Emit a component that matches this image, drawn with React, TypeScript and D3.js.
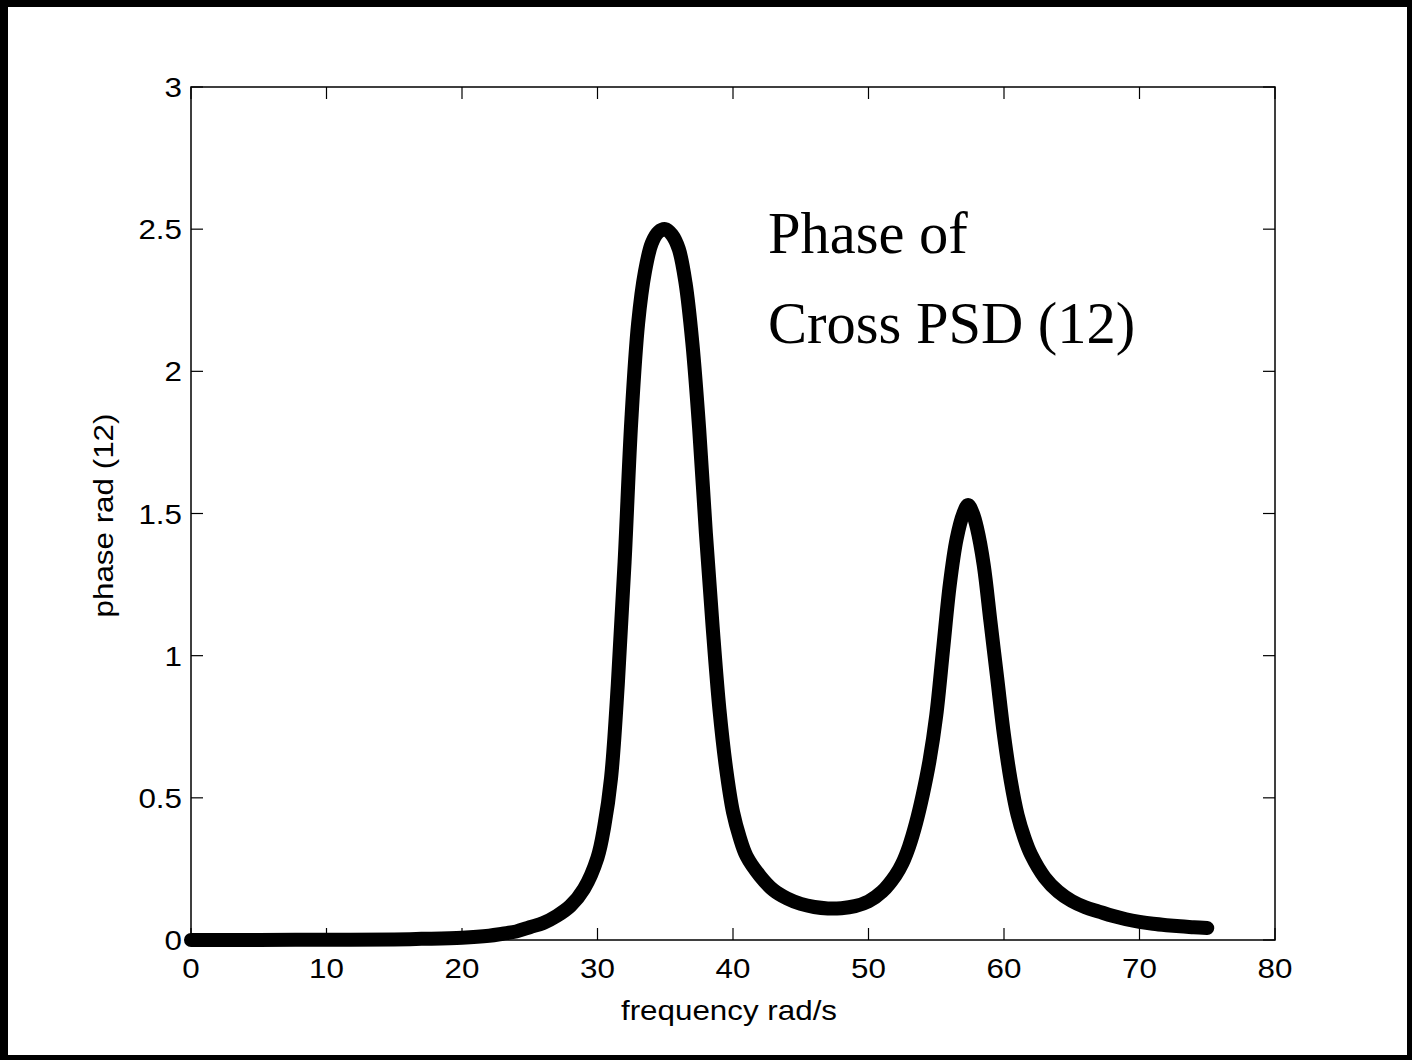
import React from "react";
import * as d3 from "d3";

const freq = [0, 5, 10, 15, 17, 20, 22, 23, 24, 25, 26, 27, 28, 29, 30, 30.5, 31, 31.5, 32, 32.5, 33, 33.5, 34, 34.5, 35, 35.5, 36, 36.5, 37, 37.5, 38, 38.5, 39, 39.5, 40, 40.5, 41, 42, 43, 44, 45, 46, 47, 48, 49, 50, 51, 52, 52.5, 53, 53.5, 54, 54.5, 55, 55.5, 56, 56.5, 57, 57.35, 57.7, 58, 58.5, 59, 59.5, 60, 60.5, 61, 61.5, 62, 63, 64, 65, 66, 67, 68, 69, 70, 71, 72, 73, 74, 75];
const phase = [0, 0, 0.001, 0.002, 0.004, 0.008, 0.015, 0.022, 0.03, 0.045, 0.06, 0.085, 0.12, 0.18, 0.29, 0.4, 0.57, 0.9, 1.33, 1.83, 2.17, 2.35, 2.45, 2.49, 2.5, 2.48, 2.43, 2.31, 2.1, 1.8, 1.43, 1.1, 0.81, 0.6, 0.45, 0.36, 0.295, 0.225, 0.175, 0.146, 0.127, 0.116, 0.111, 0.112, 0.119, 0.136, 0.17, 0.228, 0.27, 0.33, 0.41, 0.51, 0.63, 0.79, 1.02, 1.25, 1.41, 1.5, 1.53, 1.5, 1.45, 1.32, 1.12, 0.92, 0.72, 0.56, 0.44, 0.36, 0.3, 0.22, 0.17, 0.137, 0.115, 0.1, 0.085, 0.073, 0.064, 0.057, 0.052, 0.048, 0.045, 0.042];
const xTicks = [0, 10, 20, 30, 40, 50, 60, 70, 80];
const yTicks = [0, 0.5, 1, 1.5, 2, 2.5, 3];
const yTickLabels = ["0", "0.5", "1", "1.5", "2", "2.5", "3"];
const titleLines = ["Phase of", "Cross PSD (12)"];
const xLabel = "frequency rad/s";
const yLabel = "phase rad (12)";

const W = 1412;
const H = 1060;
const L = 191, R = 1275, T = 87, B = 940;

export default function App() {
  const x = d3.scaleLinear().domain([0, 80]).range([L, R]);
  const y = d3.scaleLinear().domain([0, 3]).range([B, T]);
  const pts: [number, number][] = freq.map((f, i) => [f, phase[i]]);
  const line = d3.line<[number, number]>().x(d => x(d[0])).y(d => y(d[1])).curve(d3.curveCatmullRom.alpha(0.5));
  const sans = "'Liberation Sans', Arial, Helvetica, sans-serif";
  const serif = "'Liberation Serif', 'Times New Roman', serif";
  const tick = 12;
  const sx = 1.12;
  return (
    <svg width={W} height={H} style={{ position: "absolute", left: 0, top: 0, background: "#fff" }}>
      <rect x={0} y={0} width={W} height={H} fill="#fff" />
      {/* outer frame */}
      <rect x={0} y={0} width={W} height={7} fill="#000" />
      <rect x={0} y={1055} width={W} height={5} fill="#000" />
      <rect x={0} y={0} width={8} height={H} fill="#000" />
      <rect x={1407} y={0} width={5} height={H} fill="#000" />
      {/* axes box */}
      <rect x={L} y={T} width={R - L} height={B - T} fill="none" stroke="#000" strokeWidth={1.5} />
      {xTicks.map(t => (
        <g key={"xt" + t}>
          <line x1={x(t)} x2={x(t)} y1={B} y2={B - tick} stroke="#000" strokeWidth={1.2} />
          <line x1={x(t)} x2={x(t)} y1={T} y2={T + tick} stroke="#000" strokeWidth={1.2} />
          <text transform={`translate(${x(t)},978) scale(${sx},1)`} textAnchor="middle" fontFamily={sans} fontSize={28} fill="#000">{String(t)}</text>
        </g>
      ))}
      {yTicks.map((t, i) => (
        <g key={"yt" + t}>
          <line x1={L} x2={L + tick} y1={y(t)} y2={y(t)} stroke="#000" strokeWidth={1.2} />
          <line x1={R} x2={R - tick} y1={y(t)} y2={y(t)} stroke="#000" strokeWidth={1.2} />
          <text transform={`translate(182,${y(t) + 10}) scale(${sx},1)`} textAnchor="end" fontFamily={sans} fontSize={28} fill="#000">{yTickLabels[i]}</text>
        </g>
      ))}
      <text transform={`translate(${(L + R) / 2 - 4},1020) scale(${sx},1)`} textAnchor="middle" fontFamily={sans} fontSize={28} fill="#000">{xLabel}</text>
      <text transform={`translate(113,${(T + B) / 2 + 2}) rotate(-90) scale(${sx},1)`} textAnchor="middle" fontFamily={sans} fontSize={28} fill="#000">{yLabel}</text>
      <path d={line(pts) || ""} fill="none" stroke="#000" strokeWidth={14} strokeLinejoin="round" strokeLinecap="round" />
      {titleLines.map((s, i) => (
        <text key={s} x={768} y={253 + i * 90} fontFamily={serif} fontSize={58.5} fill="#000">{s}</text>
      ))}
    </svg>
  );
}
